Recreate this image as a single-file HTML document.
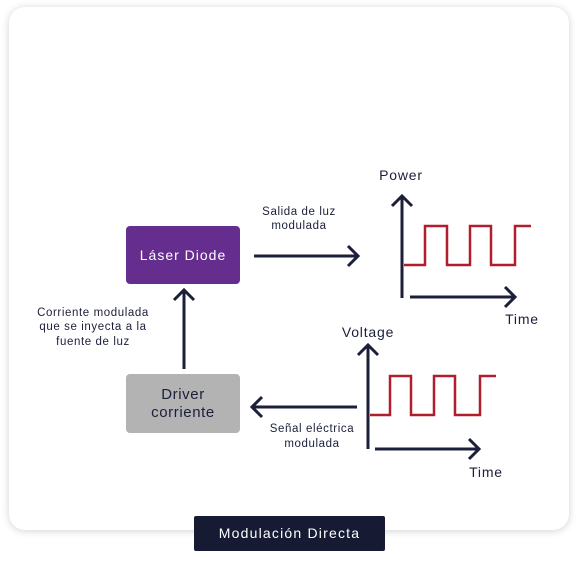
<!DOCTYPE html>
<html><head><style>
body{margin:0;width:577px;height:564px;background:#fff;overflow:hidden;font-family:"Liberation Sans",sans-serif}
.card{position:absolute;left:9px;top:7px;width:560px;height:523px;background:#fff;border-radius:16px;box-shadow:0 1px 8px rgba(0,0,0,.18)}
</style></head><body>
<div class="card"></div>
<svg width="577" height="564" style="position:absolute;left:0;top:0" font-family="Liberation Sans, sans-serif">
<rect x="126" y="226" width="114" height="58" rx="4" fill="#652d8e"/>
<text x="183" y="260" fill="#fff" font-size="14" letter-spacing="1" text-anchor="middle">Láser Diode</text>
<rect x="126" y="374" width="114" height="59" rx="4" fill="#b3b3b3"/>
<text x="183" y="399" fill="#1c1f3a" font-size="15" letter-spacing="0.6" text-anchor="middle">Driver</text>
<text x="183" y="417" fill="#1c1f3a" font-size="15" letter-spacing="0.6" text-anchor="middle">corriente</text>
<g stroke="#1c1f3a" stroke-width="3" fill="none">
<path d="M254 256H358M348 246L358 256L348 266"/>
<path d="M402 298V196M392 206L402 196L412 206"/>
<path d="M410 297H515M505 287L515 297L505 307"/>
<path d="M184 369V290M174 300L184 290L194 300"/>
<path d="M357 407H252M262 397L252 407L262 417"/>
<path d="M368 449V345M358 355L368 345L378 355"/>
<path d="M375 449H479M469 439L479 449L469 459"/>
</g>
<g stroke="#b01e2e" stroke-width="2.5" fill="none">
<path d="M404 265H425V226H447V265H470V226H491V265H515V226H531"/>
<path d="M370 415H390V376H411V415H434V376H455V415H480V376H496"/>
</g>
<g fill="#1c1f3a" font-size="14" letter-spacing="0.8" text-anchor="middle">
<text x="401" y="180">Power</text>
<text x="522" y="324">Time</text>
<text x="368" y="337">Voltage</text>
<text x="486" y="477">Time</text>
</g>
<g fill="#1c1f3a" font-size="11.5" letter-spacing="0.6" text-anchor="middle">
<text x="299" y="215">Salida de luz</text>
<text x="299" y="229">modulada</text>
<text x="93" y="316">Corriente modulada</text>
<text x="93" y="330">que se inyecta a la</text>
<text x="93" y="345">fuente de luz</text>
<text x="312" y="432">Señal eléctrica</text>
<text x="312" y="447">modulada</text>
</g>
<rect x="194" y="516" width="191" height="35" rx="2" fill="#161b33"/>
<text x="289.5" y="538" fill="#fff" font-size="14" letter-spacing="1.2" text-anchor="middle">Modulación Directa</text>
</svg>
</body></html>
